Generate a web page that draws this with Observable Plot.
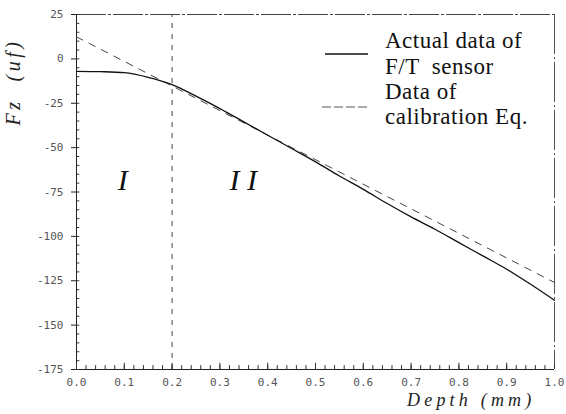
<!DOCTYPE html>
<html><head><meta charset="utf-8">
<script src="https://cdn.jsdelivr.net/npm/d3@7"></script>
<script src="https://cdn.jsdelivr.net/npm/@observablehq/plot@0.6"></script>
<style>body{margin:0;background:#fff} #chart svg{display:block}</style>
</head><body><div id="chart"></div>
<script>
// Actual F/T sensor data (Fz) vs depth
const depth    = [0.00, 0.05, 0.10, 0.15, 0.20, 0.25, 0.30, 0.35, 0.40, 0.45, 0.50, 0.55, 0.60, 0.65, 0.70, 0.75, 0.80, 0.85, 0.90, 0.95, 1.00];
const actualFz = [-7.0, -7.2, -7.8, -10.4, -14.5, -21.0, -28.0, -35.5, -43.0, -50.5, -58.0, -66.0, -73.5, -81.5, -89.0, -96.0, -103.5, -111.0, -118.5, -127.0, -136.0];
// Calibration equation (straight line)
const calibDepth = [0.0, 1.0];
const calibFz    = [12.4, -126.0];
// Axis ticks
const yTicks = [25, 0, -25, -50, -75, -100, -125, -150, -175];
const xTicks = [0.0, 0.1, 0.2, 0.3, 0.4, 0.5, 0.6, 0.7, 0.8, 0.9, 1.0];
const yMinor = d3.range(25, -175.1, -5);
const xMinor = d3.range(0, 1.0001, 0.02);
// Region boundary and labels
const boundary = [0.2];
const regionLabels = ["I", "I I"];
const regionX = [0.097, 0.349];
const regionY = [-68.5, -68.5];

const actual = depth.map((d, i) => ({depth: d, fz: actualFz[i]}));
const calib = calibDepth.map((d, i) => ({depth: d, fz: calibFz[i]}));
const regions = regionLabels.map((t, i) => ({text: t, x: regionX[i], y: regionY[i]}));

const fmtY = d => d < 0 ? "-" + (-d) : String(d);
const tickFont = "DejaVu Sans Mono";

const svg = Plot.plot({
  width: 566, height: 414,
  marginLeft: 76, marginRight: 12, marginTop: 14, marginBottom: 45,
  x: {domain: [0, 1]},
  y: {domain: [-175, 25]},
  style: {background: "#fff", color: "#222"},
  marks: [
    // frame
    Plot.ruleY([25], {stroke: "#444", strokeWidth: 1, strokeDasharray: "30,2,3,2"}),
    Plot.ruleX([1], {stroke: "#555", strokeWidth: 1, strokeDasharray: "40,3,2,3"}),
    Plot.ruleX([0], {stroke: "#222", strokeWidth: 1}),
    Plot.ruleY([-175], {stroke: "#222", strokeWidth: 1}),
    // minor ticks
    Plot.ruleY(yMinor, {x1: 0, x2: 0.007, stroke: "#333"}),
    Plot.ruleX(xMinor, {y1: -175, y2: -172.8, stroke: "#333"}),
    Plot.ruleX(xTicks, {y1: -175, y2: -171.5, stroke: "#333"}),
    // boundary between regions
    Plot.ruleX(boundary, {y1: -175, y2: 25, stroke: "#444", strokeDasharray: "5,6"}),
    // data
    Plot.line(calib, {x: "depth", y: "fz", stroke: "#444", strokeWidth: 1, strokeDasharray: "7,7"}),
    Plot.line(actual, {x: "depth", y: "fz", stroke: "#111", strokeWidth: 1.3, curve: "monotone-x"}),
    // region labels
    Plot.text(regions, {x: "x", y: "y", text: "text", fontFamily: "Liberation Serif", fontStyle: "italic", fontSize: 30, fill: "#111", lineAnchor: "middle"}),
    // axes
    Plot.axisY(yTicks, {anchor: "left", tickSize: 5, tickPadding: 8, tickFormat: fmtY, fontFamily: tickFont, fontSize: 11, fill: "#555", stroke: "#222", label: null}),
    Plot.axisX(xTicks, {anchor: "bottom", tickSize: 0, tickPadding: 9, tickFormat: d3.format(".1f"), fontFamily: tickFont, fontSize: 11, fill: "#555", label: null})
  ]
});

const s = d3.select(svg);
// axis titles
s.append("text")
  .attr("transform", "translate(20,82) rotate(-90)")
  .attr("text-anchor", "middle")
  .style("font-family", "Liberation Serif").style("font-style", "italic")
  .style("font-size", "20px").style("letter-spacing", "3.5px").style("white-space", "pre")
  .attr("fill", "#222")
  .text("Fz  (uf)");
s.append("text")
  .attr("x", 407).attr("y", 406)
  .attr("text-anchor", "start")
  .style("font-family", "Liberation Serif").style("font-style", "italic")
  .style("font-size", "18px").style("letter-spacing", "4.2px").style("white-space", "pre")
  .attr("fill", "#222")
  .text("Depth (mm)");

// legend
const lg = s.append("g").attr("text-anchor", "start").style("font-family", "Liberation Serif").style("font-size", "23px").attr("fill", "#111");
lg.append("line").attr("x1", 325).attr("x2", 368).attr("y1", 54).attr("y2", 54).attr("stroke", "#111").attr("stroke-width", 1.3);
lg.append("line").attr("x1", 322).attr("x2", 367).attr("y1", 107).attr("y2", 107).attr("stroke", "#555").attr("stroke-width", 1).attr("stroke-dasharray", "9,3");
const legendText = [["Actual data of", 48], ["F/T  sensor", 74], ["Data of", 99], ["calibration Eq.", 124]];
legendText.forEach(([t, y]) => {
  lg.append("text").attr("x", 385).attr("y", y).attr("text-anchor", "start").style("letter-spacing", "0.5px").style("white-space", "pre").text(t);
});

document.getElementById("chart").appendChild(svg);
</script>
</body></html>
